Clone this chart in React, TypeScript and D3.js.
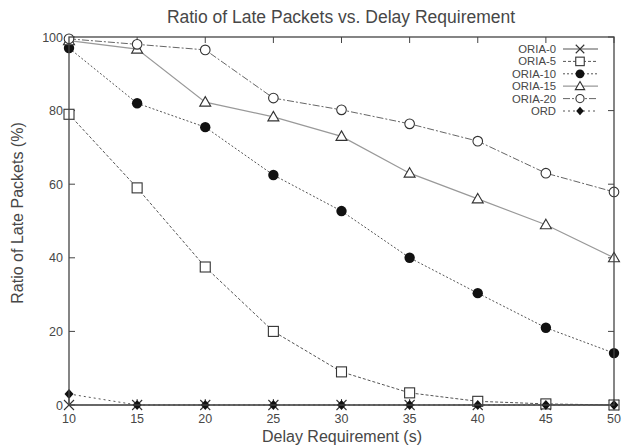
import React from "react";
import * as d3 from "d3";

const delays = [10, 15, 20, 25, 30, 35, 40, 45, 50];
const oria0 = [0, 0, 0, 0, 0, 0, 0, 0, 0];
const oria5 = [79, 59, 37.5, 20, 9, 3.3, 1, 0.3, 0];
const oria10 = [97, 82, 75.5, 62.5, 52.7, 40, 30.4, 21, 14.1];
const oria15 = [99, 96.7, 82.3, 78.3, 73, 63, 56, 49, 40];
const oria20 = [99.5, 98, 96.5, 83.4, 80.2, 76.4, 71.7, 63, 57.9];
const ord = [3, 0, 0, 0, 0, 0, 0, 0, 0];
const xTicks = [10, 15, 20, 25, 30, 35, 40, 45, 50];
const yTicks = [0, 20, 40, 60, 80, 100];

const seriesNames = ["ORIA-0", "ORIA-5", "ORIA-10", "ORIA-15", "ORIA-20", "ORD"];
const seriesValues = [oria0, oria5, oria10, oria15, oria20, ord];

type Style = { stroke: string; dash: string; width: number; marker: string };
const styles: Style[] = [
  { stroke: "#555", dash: "", width: 1.2, marker: "x" },
  { stroke: "#555", dash: "3,2", width: 1, marker: "square" },
  { stroke: "#555", dash: "2,2", width: 1, marker: "circleFill" },
  { stroke: "#999", dash: "", width: 1.2, marker: "triangle" },
  { stroke: "#666", dash: "7,2,2,2", width: 1, marker: "circle" },
  { stroke: "#555", dash: "2,3", width: 1, marker: "diamond" },
];

const W = 623, H = 446;
const L = 69, R = 614, T = 37, B = 405;
const FONT = "'Liberation Sans', Arial, sans-serif";
const TEXT = "#474747";

function Marker({ kind, x, y, s = 1 }: { kind: string; x: number; y: number; s?: number }) {
  const c = "#333";
  switch (kind) {
    case "x":
      return (
        <g stroke={c} strokeWidth={1.1}>
          <line x1={x - 5 * s} y1={y - 5 * s} x2={x + 5 * s} y2={y + 5 * s} />
          <line x1={x - 5 * s} y1={y + 5 * s} x2={x + 5 * s} y2={y - 5 * s} />
        </g>
      );
    case "square":
      return <rect x={x - 5 * s} y={y - 5 * s} width={10 * s} height={10 * s} fill="white" stroke={c} strokeWidth={1.1} />;
    case "circleFill":
      return <circle cx={x} cy={y} r={5.2 * s} fill="#111" />;
    case "triangle":
      return (
        <path
          d={`M${x},${y - 5.5 * s}L${x + 5.5 * s},${y + 4 * s}L${x - 5.5 * s},${y + 4 * s}Z`}
          fill="white"
          stroke={c}
          strokeWidth={1.1}
        />
      );
    case "circle":
      return <circle cx={x} cy={y} r={4.8 * s} fill="white" stroke={c} strokeWidth={1.1} />;
    case "diamond":
      return <path d={`M${x},${y - 5 * s}L${x + 4.5 * s},${y}L${x},${y + 5 * s}L${x - 4.5 * s},${y}Z`} fill="#111" />;
    default:
      return null;
  }
}

export default function App() {
  const x = d3.scaleLinear().domain([10, 50]).range([L, R]);
  const y = d3.scaleLinear().domain([0, 100]).range([B, T]);
  const line = d3
    .line<number>()
    .x((_, i) => x(delays[i]))
    .y((d) => y(d));

  return (
    <svg width={W} height={H} style={{ position: "absolute", left: 0, top: 0, background: "white" }}>
      <text x={341} y={23} textAnchor="middle" fontFamily={FONT} fontSize={17.5} fill={TEXT}>
        Ratio of Late Packets vs. Delay Requirement
      </text>
      {/* ticks */}
      {xTicks.map((t) => (
        <g key={"x" + t}>
          <line x1={x(t)} x2={x(t)} y1={B} y2={B - 6} stroke="#444" />
          <line x1={x(t)} x2={x(t)} y1={T} y2={T + 6} stroke="#444" />
          <text x={x(t)} y={B + 18} textAnchor="middle" fontFamily={FONT} fontSize={12.5} fill={TEXT}>
            {t}
          </text>
        </g>
      ))}
      {yTicks.map((t) => (
        <g key={"y" + t}>
          <line x1={L} x2={L + 6} y1={y(t)} y2={y(t)} stroke="#444" />
          <line x1={R} x2={R - 6} y1={y(t)} y2={y(t)} stroke="#444" />
          <text x={L - 6} y={y(t) + 4.5} textAnchor="end" fontFamily={FONT} fontSize={12.5} fill={TEXT}>
            {t}
          </text>
        </g>
      ))}
      <text x={342} y={442} textAnchor="middle" fontFamily={FONT} fontSize={16} fill={TEXT}>
        Delay Requirement (s)
      </text>
      <text
        transform={`translate(23,${213}) rotate(-90)`}
        textAnchor="middle"
        fontFamily={FONT}
        fontSize={16}
        fill={TEXT}
      >
        Ratio of Late Packets (%)
      </text>
      {/* series */}
      {seriesValues.map((vals, si) => (
        <path
          key={"l" + si}
          d={line(vals) || ""}
          fill="none"
          stroke={styles[si].stroke}
          strokeWidth={styles[si].width}
          strokeDasharray={styles[si].dash}
        />
      ))}
      {seriesValues.map((vals, si) => (
        <g key={"m" + si}>
          {vals.map((v, i) => (
            <Marker key={i} kind={styles[si].marker} x={x(delays[i])} y={y(v)} />
          ))}
        </g>
      ))}
      {/* legend */}
      {seriesNames.map((n, i) => {
        const ly = 49 + i * 12.4;
        return (
          <g key={"lg" + n}>
            <text x={556} y={ly + 4} textAnchor="end" fontFamily={FONT} fontSize={11.3} fill={TEXT}>
              {n}
            </text>
            <line
              x1={563}
              x2={598}
              y1={ly}
              y2={ly}
              stroke={styles[i].stroke}
              strokeWidth={styles[i].width}
              strokeDasharray={styles[i].dash}
            />
            <Marker kind={styles[i].marker} x={580} y={ly} s={0.85} />
          </g>
        );
      })}
      {/* frame */}
      <rect x={L} y={T} width={R - L} height={B - T} fill="none" stroke="#444" strokeWidth={1.3} />
    </svg>
  );
}
